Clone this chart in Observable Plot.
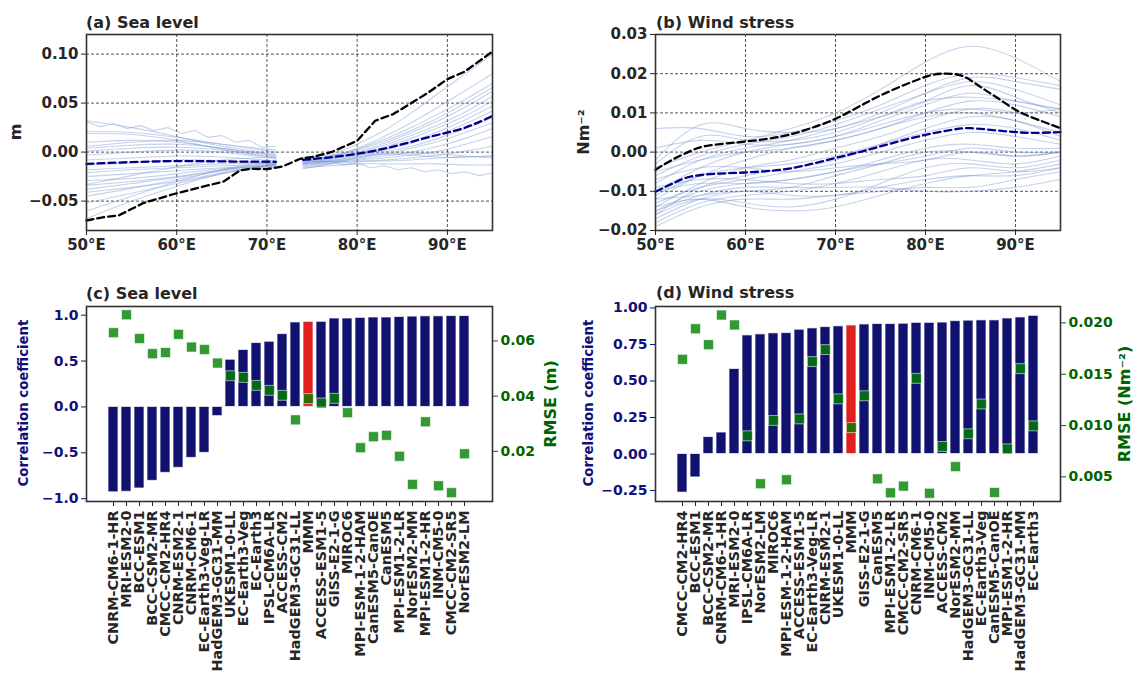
<!DOCTYPE html>
<html><head><meta charset="utf-8">
<script src="https://cdn.jsdelivr.net/npm/d3@7"></script>
<script src="https://cdn.jsdelivr.net/npm/@observablehq/plot@0.6"></script>
<style>
body{margin:0;background:#fff;font-family:"DejaVu Sans",sans-serif;}
#wrap{position:relative;width:1134px;height:683px;overflow:hidden;background:#fff;}
#wrap svg{position:absolute;}
.t{position:absolute;font-weight:bold;font-size:16px;line-height:16px;color:#262626;white-space:nowrap;}
.rl{position:absolute;font-weight:bold;white-space:nowrap;transform:translate(-50%,-50%) rotate(-90deg);line-height:1;}
</style></head><body><div id="wrap"></div>
<script>
// ---------- Panel (a) Sea level: model lines ----------
const lonA1 = [50, 55, 60, 65, 71];
const lonA2 = [74, 77, 80, 83, 86, 89, 92, 95];
const modelsA1 = [
  [0.032, 0.025, 0.016, 0.006, -0.002],
  [0.021, 0.020, 0.015, 0.008, 0.000],
  [0.019, 0.018, 0.012, 0.003, -0.006],
  [0.006, 0.010, 0.012, 0.008, 0.002],
  [0.004, 0.007, 0.008, 0.004, -0.004],
  [0.001, 0.004, 0.005, 0.002, -0.005],
  [-0.003, 0.000, 0.002, 0.000, -0.007],
  [-0.008, -0.006, -0.004, -0.005, -0.009],
  [-0.013, -0.011, -0.008, -0.009, -0.012],
  [-0.018, -0.016, -0.014, -0.012, -0.011],
  [-0.021, -0.018, -0.016, -0.014, -0.013],
  [-0.025, -0.022, -0.019, -0.016, -0.014],
  [-0.029, -0.027, -0.022, -0.017, -0.015],
  [-0.034, -0.030, -0.025, -0.018, -0.013],
  [-0.038, -0.032, -0.026, -0.019, -0.016],
  [-0.041, -0.036, -0.030, -0.021, -0.012],
  [-0.045, -0.037, -0.028, -0.019, -0.010],
  [-0.052, -0.042, -0.032, -0.022, -0.012],
  [-0.060, -0.045, -0.030, -0.018, -0.008],
  [-0.068, -0.050, -0.035, -0.022, -0.014],
  [0.010, 0.012, 0.010, 0.004, -0.003],
  [-0.033, -0.024, -0.015, -0.008, -0.005]
];
const modelsA2 = [
  [-0.006, -0.002, 0.008, 0.022, 0.040, 0.060, 0.080, 0.100],
  [-0.008, -0.004, 0.004, 0.016, 0.030, 0.046, 0.063, 0.080],
  [-0.007, -0.004, 0.003, 0.013, 0.025, 0.039, 0.054, 0.070],
  [-0.009, -0.005, 0.002, 0.011, 0.022, 0.035, 0.050, 0.066],
  [-0.010, -0.006, 0.000, 0.009, 0.020, 0.032, 0.046, 0.062],
  [-0.008, -0.006, -0.001, 0.007, 0.017, 0.028, 0.041, 0.057],
  [-0.011, -0.007, -0.002, 0.005, 0.014, 0.025, 0.037, 0.052],
  [-0.009, -0.007, -0.003, 0.003, 0.011, 0.021, 0.033, 0.047],
  [-0.012, -0.009, -0.004, 0.002, 0.009, 0.018, 0.029, 0.042],
  [-0.010, -0.008, -0.005, 0.000, 0.006, 0.014, 0.024, 0.035],
  [-0.013, -0.010, -0.006, -0.002, 0.004, 0.011, 0.020, 0.030],
  [-0.011, -0.009, -0.007, -0.004, 0.000, 0.006, 0.014, 0.024],
  [-0.014, -0.011, -0.008, -0.006, -0.003, 0.001, 0.008, 0.016],
  [-0.012, -0.010, -0.009, -0.008, -0.006, -0.003, 0.001, 0.006],
  [-0.015, -0.012, -0.010, -0.009, -0.008, -0.006, -0.005, -0.004],
  [-0.016, -0.014, -0.012, -0.012, -0.012, -0.012, -0.013, -0.013],
  [-0.017, -0.012, -0.006, -0.002, -0.001, -0.002, -0.004, -0.006],
  [-0.005, -0.003, -0.002, -0.002, -0.003, -0.005, -0.005, -0.004]
];
const zigA1Lon = [50, 51.5, 53, 54.5, 56, 57.5, 59, 60.5, 62, 63.5, 65, 66.5, 68, 69.5, 71];
const zigA1Val = [0.031, 0.026, 0.029, 0.024, 0.027, 0.022, 0.025, 0.019, 0.022, 0.015, 0.017, 0.010, 0.012, 0.005, 0.006];
const zigA2Lon = [74, 75.5, 77, 78.5, 80, 81.5, 83, 84.5, 86, 87.5, 89, 90.5, 92, 93.5, 95];
const zigA2Val = [-0.007, -0.010, -0.009, -0.013, -0.011, -0.016, -0.014, -0.018, -0.016, -0.020, -0.018, -0.022, -0.020, -0.024, -0.021];
const obsALon = [50, 52, 53.6, 56.3, 60, 62.6, 65.2, 67, 68.2, 70, 71.7, 73.7, 75.3, 77.3, 80, 82, 84, 86, 88, 90, 91.9, 95];
const obsAVal = [-0.0698, -0.0663, -0.0645, -0.052, -0.042, -0.036, -0.030, -0.0188, -0.017, -0.0174, -0.0147, -0.0068, -0.0045, 0.0006, 0.0115, 0.032, 0.0388, 0.050, 0.0615, 0.0745, 0.082, 0.1027];
const mmmA1 = [-0.012, -0.0102, -0.0092, -0.0095, -0.0099];
const mmmA2 = [-0.0079, -0.0053, -0.0017, 0.0035, 0.0105, 0.0177, 0.0251, 0.037];

// ---------- Panel (b) Wind stress ----------
const lonB = [50, 55, 60, 65, 70, 75, 80, 85, 90, 95];
const modelsB = [
  [-0.004, 0.000, 0.003, 0.006, 0.010, 0.016, 0.023, 0.027, 0.024, 0.018],
  [0.006, 0.006, 0.004, 0.005, 0.008, 0.012, 0.017, 0.020, 0.019, 0.017],
  [-0.002, 0.007, 0.006, 0.005, 0.006, 0.010, 0.015, 0.019, 0.018, 0.016],
  [-0.006, -0.001, 0.002, 0.004, 0.007, 0.011, 0.015, 0.018, 0.016, 0.012],
  [-0.008, -0.002, 0.001, 0.003, 0.006, 0.009, 0.013, 0.017, 0.014, 0.010],
  [-0.010, -0.004, 0.000, 0.002, 0.004, 0.008, 0.012, 0.015, 0.013, 0.011],
  [-0.012, -0.006, -0.002, 0.001, 0.003, 0.006, 0.010, 0.013, 0.012, 0.009],
  [-0.014, -0.008, -0.004, -0.002, 0.001, 0.004, 0.008, 0.011, 0.010, 0.006],
  [-0.016, -0.009, -0.006, -0.004, -0.002, 0.002, 0.006, 0.009, 0.008, 0.004],
  [-0.011, -0.006, -0.004, -0.003, -0.001, 0.002, 0.005, 0.007, 0.006, 0.003],
  [-0.013, -0.009, -0.007, -0.005, -0.003, 0.000, 0.003, 0.005, 0.004, 0.002],
  [-0.015, -0.010, -0.008, -0.007, -0.005, -0.002, 0.001, 0.002, 0.001, 0.001],
  [-0.017, -0.012, -0.010, -0.009, -0.006, -0.003, 0.000, 0.000, -0.001, 0.000],
  [-0.018, -0.013, -0.011, -0.010, -0.008, -0.005, -0.002, -0.002, -0.003, -0.001],
  [-0.016, -0.012, -0.013, -0.014, -0.012, -0.008, -0.004, -0.003, -0.004, -0.002],
  [-0.014, -0.012, -0.014, -0.015, -0.014, -0.011, -0.008, -0.006, -0.005, -0.003],
  [-0.012, -0.011, -0.010, -0.011, -0.011, -0.009, -0.007, -0.006, -0.006, -0.004],
  [-0.019, -0.014, -0.012, -0.012, -0.011, -0.010, -0.009, -0.009, -0.007, -0.005],
  [-0.015, -0.011, -0.009, -0.009, -0.009, -0.009, -0.010, -0.010, -0.009, -0.007],
  [-0.009, -0.007, -0.007, -0.008, -0.008, -0.007, -0.006, -0.004, -0.005, -0.004],
  [-0.007, -0.004, -0.004, -0.005, -0.004, -0.003, -0.002, 0.000, -0.001, 0.000],
  [0.001, 0.003, 0.002, 0.002, 0.004, 0.007, 0.010, 0.011, 0.010, 0.011],
  [-0.005, -0.002, 0.000, 0.001, 0.003, 0.006, 0.009, 0.010, 0.008, 0.005],
  [-0.003, 0.004, 0.003, 0.003, 0.005, 0.009, 0.013, 0.014, 0.013, 0.011],
  [-0.010, -0.008, -0.008, -0.007, -0.005, -0.003, -0.001, 0.001, 0.000, 0.000]
];
const obsBLon = [50, 52, 54, 56, 60, 64, 67, 70, 73, 76, 80, 82, 84, 86, 88, 90, 92, 95];
const obsBVal = [-0.0045, -0.0018, 0.0004, 0.0017, 0.0027, 0.004, 0.0059, 0.0085, 0.0121, 0.0155, 0.0192, 0.020, 0.0195, 0.0168, 0.0138, 0.0108, 0.0087, 0.0061];
const mmmBLon = [50, 52, 54, 57, 60, 64, 67, 70, 73, 76, 80, 83, 85, 88, 90, 92, 95];
const mmmBVal = [-0.0101, -0.0079, -0.0062, -0.0055, -0.0052, -0.0045, -0.0032, -0.0015, 0.0002, 0.0021, 0.0044, 0.0057, 0.0061, 0.0055, 0.0051, 0.0049, 0.0051];

// ---------- Panel (c) Sea level skill ----------
const namesC = ["CNRM-CM6-1-HR","MRI-ESM2-0","BCC-ESM1","BCC-CSM2-MR","CMCC-CM2-HR4","CNRM-ESM2-1","CNRM-CM6-1","EC-Earth3-Veg-LR","HadGEM3-GC31-MM","UKESM1-0-LL","EC-Earth3-Veg","EC-Earth3","IPSL-CM6A-LR","ACCESS-CM2","HadGEM3-GC31-LL","MMM","ACCESS-ESM1-5","GISS-E2-1-G","MIROC6","MPI-ESM-1-2-HAM","CanESM5-CanOE","CanESM5","MPI-ESM1-2-LR","NorESM2-MM","MPI-ESM1-2-HR","INM-CM5-0","CMCC-CM2-SR5","NorESM2-LM"];
const corrC = [-0.93,-0.924,-0.888,-0.805,-0.718,-0.663,-0.555,-0.50,-0.10,0.514,0.62,0.696,0.71,0.793,0.92,0.927,0.927,0.963,0.963,0.97,0.974,0.974,0.98,0.984,0.987,0.987,0.99,0.99];
const rmseC = [0.063,0.0695,0.0609,0.0554,0.0558,0.0624,0.0578,0.0569,0.052,0.0474,0.0468,0.0439,0.0421,0.0403,0.0314,0.0391,0.0375,0.0392,0.034,0.0213,0.0253,0.0258,0.0182,0.008,0.0307,0.0075,0.005,0.0191];

// ---------- Panel (d) Wind stress skill ----------
const namesD = ["CMCC-CM2-HR4","BCC-ESM1","BCC-CSM2-MR","CNRM-CM6-1-HR","MRI-ESM2-0","IPSL-CM6A-LR","NorESM2-LM","MIROC6","MPI-ESM-1-2-HAM","ACCESS-ESM1-5","EC-Earth3-Veg-LR","CNRM-ESM2-1","UKESM1-0-LL","MMM","GISS-E2-1-G","CanESM5","MPI-ESM1-2-LR","CMCC-CM2-SR5","CNRM-CM6-1","INM-CM5-0","ACCESS-CM2","NorESM2-MM","HadGEM3-GC31-LL","EC-Earth3-Veg","CanESM5-CanOE","MPI-ESM1-2-HR","HadGEM3-GC31-MM","EC-Earth3"];
const corrD = [-0.264,-0.16,0.116,0.147,0.582,0.812,0.819,0.826,0.828,0.851,0.86,0.869,0.874,0.88,0.887,0.89,0.89,0.892,0.898,0.898,0.90,0.91,0.913,0.915,0.915,0.928,0.935,0.946];
const rmseD = [0.01645,0.01943,0.01788,0.02077,0.0198,0.0090,0.00433,0.0105,0.00472,0.01065,0.01623,0.0174,0.0126,0.0098,0.0129,0.00481,0.00345,0.0041,0.0146,0.0034,0.00796,0.006,0.0092,0.0121,0.00348,0.00773,0.01555,0.00997];

// ---------- tick definitions ----------
const lonTicks = [50, 60, 70, 80, 90];
const yTicksA = [-0.05, 0, 0.05, 0.10];
const yTicksB = [-0.02, -0.01, 0, 0.01, 0.02, 0.03];
const yTicksC = [-1, -0.5, 0, 0.5, 1];
const rTicksC = [0.02, 0.04, 0.06];
const yTicksD = [-0.25, 0, 0.25, 0.5, 0.75, 1];
const rTicksD = [0.005, 0.010, 0.015, 0.020];

// ---------- helpers ----------
const wrap = document.getElementById("wrap");
const fmt = n => d => (d < 0 ? "\u2212" : "") + Math.abs(d).toFixed(n);
const TXT = "#262626", NAVY = "#10107a", DKGREEN = "#006400";
const BAR = "#11116f", MMMRED = "#e0201e";
const MODEL = "#6d8fcc";
function place(svg, left, top) { svg.style.left = left + "px"; svg.style.top = top + "px"; wrap.appendChild(svg); }
function addText(cls, txt, x, y, size, color) {
  const d = document.createElement("div"); d.className = cls; d.textContent = txt;
  d.style.left = x + "px"; d.style.top = y + "px";
  if (size) d.style.fontSize = size + "px";
  if (color) d.style.color = color;
  wrap.appendChild(d);
}
const styleOf = size => ({fontFamily: "DejaVu Sans, sans-serif", fontSize: size + "px", fontWeight: "bold", color: TXT, background: "transparent", overflow: "visible"});

function series(lons, vals, id) { return lons.map((lon, j) => ({id, lon, v: vals[j]})); }

// ---------- build line data ----------
const smoothA = [];
modelsA1.forEach((vals, k) => smoothA.push(...series(lonA1, vals, "a1-" + k)));
modelsA2.forEach((vals, k) => smoothA.push(...series(lonA2, vals, "a2-" + k)));
const zigA = [...series(zigA1Lon, zigA1Val, "z1"), ...series(zigA2Lon, zigA2Val, "z2")];
const obsA = series(obsALon, obsAVal, "obs");
const mmmA = [...series(lonA1, mmmA1, "m1"), ...series(lonA2, mmmA2, "m2")];

const smoothB = [];
modelsB.forEach((vals, k) => smoothB.push(...series(lonB, vals, "b-" + k)));
const obsB = series(obsBLon, obsBVal, "obs");
const mmmB = series(mmmBLon, mmmBVal, "mmm");

function linePanel(opts) {
  return Plot.plot({
    width: opts.W, height: 262,
    marginLeft: opts.L, marginRight: opts.R, marginTop: 34, marginBottom: 32,
    style: styleOf(15),
    x: {domain: [50, 95]},
    y: {domain: opts.yDomain},
    marks: [
      Plot.gridX(lonTicks, {stroke: "#000", strokeOpacity: 0.85, strokeWidth: 0.8, strokeDasharray: "3,2"}),
      Plot.gridY(opts.yTicks, {stroke: "#000", strokeOpacity: 0.85, strokeWidth: 0.8, strokeDasharray: "3,2"}),
      Plot.line(opts.smooth, {x: "lon", y: "v", z: "id", stroke: MODEL, strokeOpacity: 0.4, strokeWidth: 1.1, curve: "natural"}),
      ...(opts.zig ? [Plot.line(opts.zig, {x: "lon", y: "v", z: "id", stroke: MODEL, strokeOpacity: 0.4, strokeWidth: 1.1, curve: "linear"})] : []),
      Plot.line(opts.mmm, {x: "lon", y: "v", z: "id", stroke: "#00008b", strokeWidth: 2.3, strokeDasharray: "7,4", curve: "natural"}),
      Plot.line(opts.obs, {x: "lon", y: "v", stroke: "#000", strokeWidth: 2.3, strokeDasharray: "7,4", curve: opts.obsCurve}),
      Plot.frame({stroke: "#333", strokeWidth: 1.6}),
      Plot.axisX(lonTicks, {tickFormat: d => d + "\u00b0E", tickSize: 5, tickPadding: 4, label: null, color: TXT}),
      Plot.axisY(opts.yTicks, {tickFormat: opts.yFmt, tickSize: 5, tickPadding: 3, label: null, color: TXT})
    ]
  });
}

place(linePanel({W: 567, L: 86, R: 75, yDomain: [-0.08, 0.12], yTicks: yTicksA, yFmt: fmt(2),
  smooth: smoothA, zig: zigA, mmm: mmmA, obs: obsA, obsCurve: "linear"}), 0, 0);
place(linePanel({W: 567, L: 88, R: 74, yDomain: [-0.02, 0.03], yTicks: yTicksB, yFmt: fmt(2),
  smooth: smoothB, zig: null, mmm: mmmB, obs: obsB, obsCurve: "natural"}), 567, 0);

// ---------- bar panels ----------
function barPanel(opts) {
  const data = opts.names.map((name, i) => ({name, r: opts.corr[i], e: opts.rmse[i]}));
  const xs = {type: "band", domain: opts.names, paddingInner: 0.2, paddingOuter: 1.39};
  const common = {width: 567, height: 403, marginLeft: opts.L, marginRight: opts.R, marginTop: 26, marginBottom: 182};
  const bars = Plot.plot({
    ...common, style: styleOf(14),
    x: xs, y: {domain: opts.yDomain},
    marks: [
      Plot.barY(data, {x: "name", y: "r", fill: d => d.name === "MMM" ? MMMRED : BAR, stroke: "#fff", strokeOpacity: 0.7, strokeWidth: 1}),
      Plot.axisX({tickRotate: -90, tickSize: 5, tickPadding: 4, label: null, color: TXT, fontSize: "14.4px"}),
      Plot.axisY(opts.yTicks, {tickFormat: opts.yFmt, tickSize: 5, tickPadding: 3, label: null, color: NAVY})
    ]
  });
  const dots = Plot.plot({
    ...common, style: styleOf(14),
    x: {...xs, axis: null}, y: {domain: opts.rDomain},
    marks: [
      Plot.dot(data, {x: "name", y: "e", symbol: "square", r: 5.6, fill: "green", fillOpacity: 0.8, stroke: "#fff", strokeOpacity: 0.7, strokeWidth: 0.8}),
      Plot.frame({stroke: "#333", strokeWidth: 1.6}),
      Plot.axisY(opts.rTicks, {anchor: "right", tickFormat: opts.rFmt, tickSize: 5, tickPadding: 3, label: null, color: DKGREEN})
    ]
  });
  return [bars, dots];
}

const [cBars, cDots] = barPanel({names: namesC, corr: corrC, rmse: rmseC, L: 86, R: 75,
  yDomain: [-1.03, 1.094], yTicks: yTicksC, yFmt: fmt(1), rDomain: [0.0018, 0.0725], rTicks: rTicksC, rFmt: fmt(2)});
place(cBars, 0, 280); place(cDots, 0, 280);
const [dBars, dDots] = barPanel({names: namesD, corr: corrD, rmse: rmseD, L: 88, R: 74,
  yDomain: [-0.325, 1.01], yTicks: yTicksD, yFmt: fmt(2), rDomain: [0.0026, 0.0216], rTicks: rTicksD, rFmt: fmt(3)});
place(dBars, 567, 280); place(dDots, 567, 280);

// ---------- titles & axis labels ----------
addText("t", "(a) Sea level", 86, 15);
addText("t", "(b) Wind stress", 656, 15);
addText("t", "(c) Sea level", 86, 286);
addText("t", "(d) Wind stress", 656, 285);
addText("rl", "m", 16, 132, 16, TXT);
addText("rl", "Nm\u207b\u00b2", 584, 132, 16, TXT);
addText("rl", "Correlation coefficient", 24, 403, 13.3, NAVY);
addText("rl", "RMSE (m)", 551, 404, 16, DKGREEN);
addText("rl", "Correlation coefficient", 589, 403, 13.3, NAVY);
addText("rl", "RMSE (Nm\u207b\u00b2)", 1125, 404, 16, DKGREEN);
</script></body></html>
